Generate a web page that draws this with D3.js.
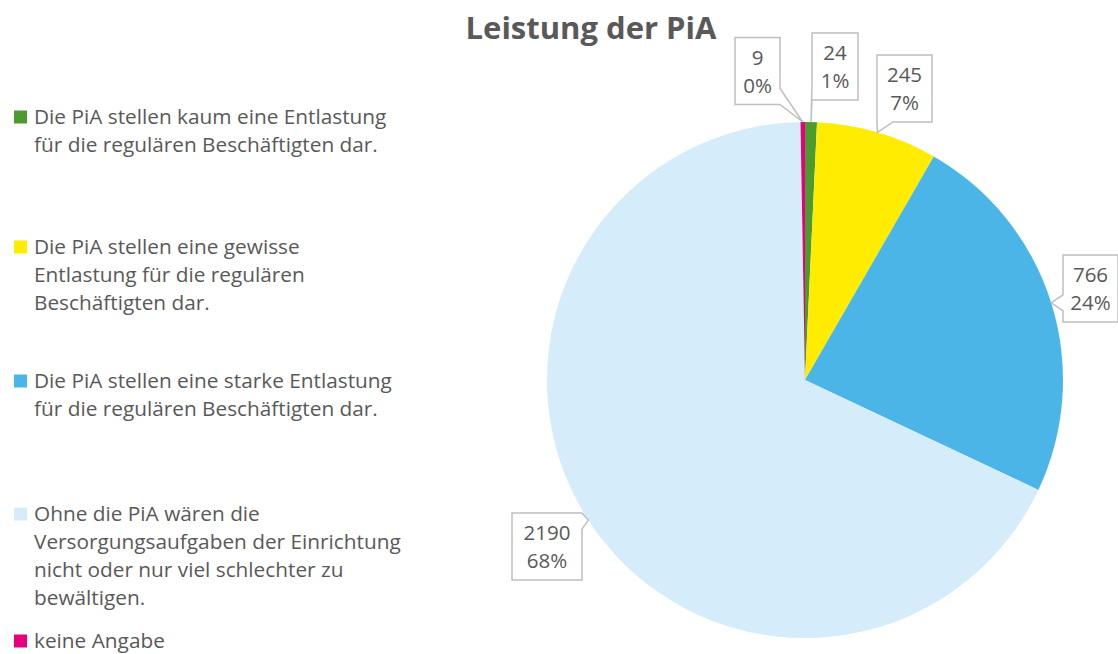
<!DOCTYPE html>
<html lang="de">
<head>
<meta charset="UTF-8">
<title>Leistung der PiA</title>
<style>
  body { margin: 0; background: #fff; }
  text { font-family: "Open Sans", sans-serif; fill: #595959; }
  .title { font-size: 31px; font-weight: bold; }
  .legend text { font-size: 20.8px; }
  .callout path { fill: #fff; stroke: #bfbfbf; stroke-width: 1.5; }
  .callout text { font-size: 20.5px; text-anchor: middle; }
</style>
</head>
<body>
<script src="https://d3js.org/d3.v7.min.js"></script>
<script>
// Data
const categories = [
  ['Die PiA stellen kaum eine Entlastung', 'für die regulären Beschäftigten dar.'],
  ['Die PiA stellen eine gewisse', 'Entlastung für die regulären', 'Beschäftigten dar.'],
  ['Die PiA stellen eine starke Entlastung', 'für die regulären Beschäftigten dar.'],
  ['Ohne die PiA wären die', 'Versorgungsaufgaben der Einrichtung', 'nicht oder nur viel schlechter zu', 'bewältigen.'],
  ['keine Angabe']
];
const values = [24, 245, 766, 2190, 9];
const pctLabels = ['1%', '7%', '24%', '68%', '0%'];
const colors = ['#4b9b2e', '#ffec00', '#4bb5e7', '#d5ecfa', '#e6007e'];

// Layout
const width = 1118, height = 654;
const cx = 805, cy = 380, radius = 258;
// callout box centres and widths
const boxes = [
  { x: 835, y: 66.5, w: 46 },
  { x: 904.5, y: 88.5, w: 55 },
  { x: 1090.5, y: 288.5, w: 55 },
  { x: 547, y: 546.5, w: 70 },
  { x: 757.5, y: 71, w: 45 }
];
const boxH = 67;
const legendTop = [117, 247, 381, 514, 641];
const lineStep = 28;

const svg = d3.select('body').append('svg')
  .attr('width', width)
  .attr('height', height);

svg.append('text')
  .attr('class', 'title')
  .attr('x', 591)
  .attr('y', 39)
  .attr('text-anchor', 'middle')
  .text('Leistung der PiA');

// Pie
const pie = d3.pie().sort(null).value(d => d)(values);
const arc = d3.arc().innerRadius(0).outerRadius(radius);
const edge = d3.arc().innerRadius(radius).outerRadius(radius);

const g = svg.append('g').attr('transform', `translate(${cx},${cy})`);
g.selectAll('path')
  .data(pie)
  .enter()
  .append('path')
  .attr('d', arc)
  .attr('fill', (d, i) => colors[i]);

// Callout shape: box with a wedge pointing at the slice edge
function callout(b, tip) {
  const x0 = b.x - b.w / 2, x1 = b.x + b.w / 2;
  const y0 = b.y - boxH / 2, y1 = b.y + boxH / 2;
  const [tx, ty] = tip;
  const half = 8;
  const clampY = v => Math.max(y0 + half, Math.min(y1 - half, v));
  const clampX = v => Math.max(x0 + half, Math.min(x1 - half, v));
  let p;
  if (tx > x1) {
    const m = clampY(ty);
    p = [[x0, y0], [x1, y0], [x1, m - half], [tx, ty], [x1, m + half], [x1, y1], [x0, y1]];
  } else if (tx < x0) {
    const m = clampY(ty);
    p = [[x0, y0], [x1, y0], [x1, y1], [x0, y1], [x0, m + half], [tx, ty], [x0, m - half]];
  } else if (ty > y1) {
    const m = clampX(tx);
    p = [[x0, y0], [x1, y0], [x1, y1], [m + half, y1], [tx, ty], [m - half, y1], [x0, y1]];
  } else {
    const m = clampX(tx);
    p = [[x0, y0], [m - half, y0], [tx, ty], [m + half, y0], [x1, y0], [x1, y1], [x0, y1]];
  }
  return 'M' + p.map(q => q.join(',')).join('L') + 'Z';
}

const labels = svg.append('g').attr('class', 'callout')
  .selectAll('g')
  .data(pie)
  .enter()
  .append('g');

labels.append('path')
  .attr('d', (d, i) => {
    const c = edge.centroid(d);
    return callout(boxes[i], [c[0] + cx, c[1] + cy]);
  });

labels.append('text')
  .attr('x', (d, i) => boxes[i].x)
  .attr('y', (d, i) => boxes[i].y - 13.5)
  .attr('dy', '0.35em')
  .text(d => d.data);

labels.append('text')
  .attr('x', (d, i) => boxes[i].x)
  .attr('y', (d, i) => boxes[i].y + 14.5)
  .attr('dy', '0.35em')
  .text((d, i) => pctLabels[i]);

// Legend
const legend = svg.append('g').attr('class', 'legend')
  .selectAll('g')
  .data(categories)
  .enter()
  .append('g');

legend.append('rect')
  .attr('x', 14)
  .attr('y', (d, i) => legendTop[i] - 6.5)
  .attr('width', 13)
  .attr('height', 13)
  .attr('fill', (d, i) => colors[i]);

legend.append('text')
  .attr('x', 34)
  .attr('y', (d, i) => legendTop[i])
  .selectAll('tspan')
  .data(d => d)
  .enter()
  .append('tspan')
  .attr('x', 34)
  .attr('dy', (d, j) => j === 0 ? '0.35em' : lineStep)
  .text(d => d);
</script>
</body>
</html>
